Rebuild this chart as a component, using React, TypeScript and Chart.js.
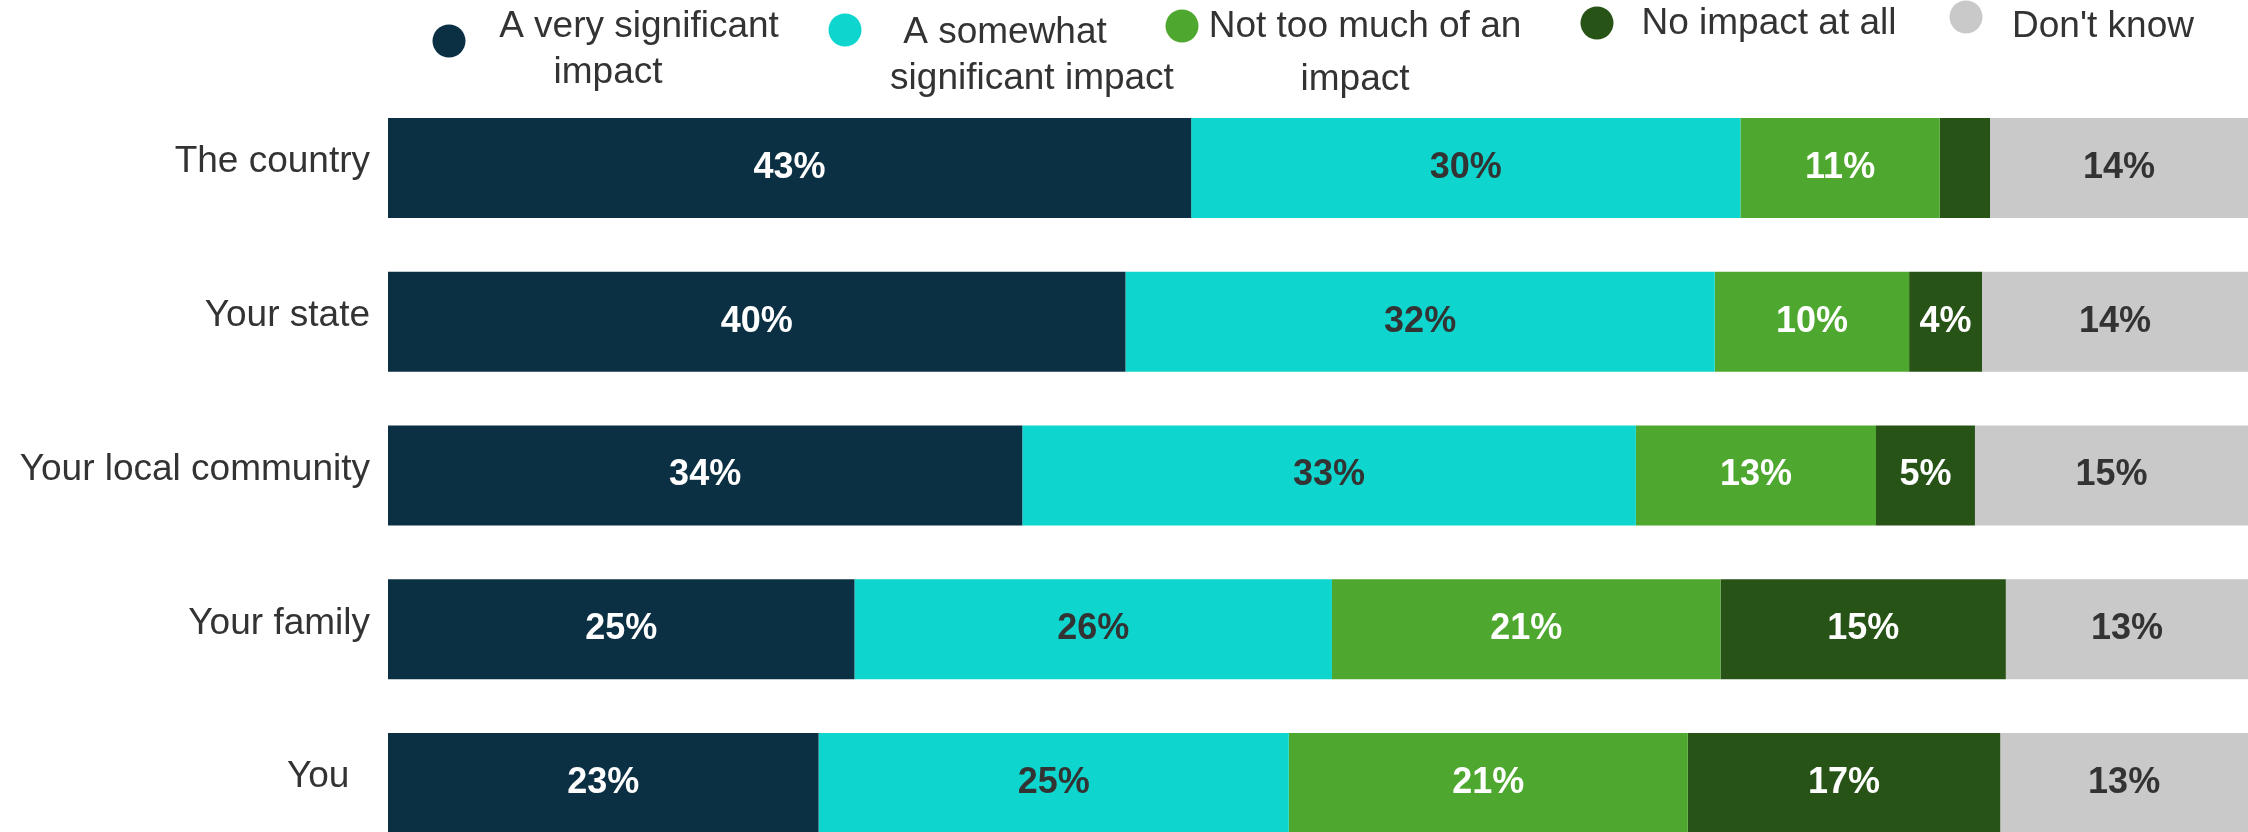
import React, { useEffect, useRef } from "react";
import { Chart, registerables } from "chart.js";

Chart.register(...registerables);

// ---- Data (labels are shown rounded) ----
const categories = ["The country", "Your state", "Your local community", "Your family", "You  "];
const seriesNames = [
  "A very significant impact",
  "A somewhat significant impact",
  "Not too much of an impact",
  "No impact at all",
  "Don't know",
];
const legendLines = [
  ["A very significant", "impact"],
  ["A somewhat", "significant impact"],
  ["Not too much of an", "impact"],
  ["No impact at all"],
  ["Don't know"],
];
const verySignificant = [43.18, 39.65, 34.1, 25.08, 23.15];
const somewhatSignificant = [29.53, 31.68, 32.99, 25.67, 25.28];
const notTooMuch = [10.72, 10.45, 12.91, 20.89, 21.45];
const noImpact = [2.7, 3.92, 5.32, 15.34, 16.8];
const dontKnow = [13.87, 14.3, 14.68, 13.02, 13.32];

const seriesValues = [verySignificant, somewhatSignificant, notTooMuch, noImpact, dontKnow];
const colors = ["#0c3043", "#0ed6ce", "#4ea72e", "#275317", "#c9c9c9"];
const labelColors = ["#ffffff", "#333333", "#ffffff", "#ffffff", "#333333"];

const FONT = '"Liberation Sans", Arial, Helvetica, sans-serif';
const TEXT = "#333333";

// legend layout (pixel style positions)
const legendDots = [
  { x: 449, y: 41 },
  { x: 845, y: 30 },
  { x: 1182, y: 26 },
  { x: 1597, y: 23 },
  { x: 1966, y: 17 },
];
const legendText = [
  [{ x: 639, y: 37 }, { x: 608, y: 83 }],
  [{ x: 1005, y: 43 }, { x: 1032, y: 89 }],
  [{ x: 1365, y: 37 }, { x: 1355, y: 90 }],
  [{ x: 1769, y: 34 }],
  [{ x: 2103, y: 37 }],
];

const legendPlugin = {
  id: "customLegend",
  afterDraw(chart: any) {
    const ctx = chart.ctx;
    ctx.save();
    seriesNames.forEach((_, i) => {
      const d = legendDots[i];
      ctx.beginPath();
      ctx.fillStyle = colors[i];
      ctx.arc(d.x, d.y, 16.5, 0, Math.PI * 2);
      ctx.fill();
      ctx.font = `37px ${FONT}`;
      ctx.fillStyle = TEXT;
      ctx.textAlign = "center";
      ctx.textBaseline = "alphabetic";
      legendLines[i].forEach((line, j) => {
        const p = legendText[i][j];
        ctx.fillText(line, p.x, p.y);
      });
    });
    ctx.restore();
  },
};

const segLabelPlugin = {
  id: "segLabels",
  afterDatasetsDraw(chart: any) {
    const ctx = chart.ctx;
    ctx.save();
    ctx.font = `bold 36px ${FONT}`;
    ctx.textAlign = "center";
    ctx.textBaseline = "middle";
    chart.data.datasets.forEach((ds: any, di: number) => {
      const meta = chart.getDatasetMeta(di);
      meta.data.forEach((bar: any, i: number) => {
        const v = ds.data[i] as number;
        if (v < 3) return;
        const { x, y, base } = bar.getProps(["x", "y", "base"], true);
        ctx.fillStyle = labelColors[di];
        ctx.fillText(Math.round(v) + "%", (x + base) / 2, y);
      });
    });
    ctx.restore();
  },
};

export default function App() {
  const ref = useRef<HTMLCanvasElement | null>(null);

  useEffect(() => {
    if (!ref.current) return;
    const chart = new Chart(ref.current, {
      type: "bar",
      data: {
        labels: categories,
        datasets: seriesNames.map((name, i) => ({
          label: name,
          data: seriesValues[i],
          backgroundColor: colors[i],
          borderWidth: 0,
          categoryPercentage: 1,
          barPercentage: 0.65,
        })),
      },
      options: {
        indexAxis: "y",
        responsive: false,
        animation: false,
        events: [],
        layout: { padding: { top: 91, left: 0, right: 0, bottom: 0 } },
        plugins: {
          legend: { display: false },
          tooltip: { enabled: false },
          title: { display: false },
        },
        scales: {
          x: { stacked: true, min: 0, max: 100, display: false },
          y: {
            stacked: true,
            grid: { display: false, drawTicks: false },
            border: { display: false },
            ticks: {
              font: { size: 37, family: FONT },
              color: TEXT,
              padding: 18,
              labelOffset: -6,
            },
            afterFit: (scale: any) => {
              scale.width = 388;
              scale.paddingTop = 0;
              scale.paddingBottom = 0;
            },
          },
        },
      } as any,
      plugins: [segLabelPlugin, legendPlugin],
    });
    return () => chart.destroy();
  }, []);

  return (
    <div
      style={{
        position: "fixed",
        top: 0,
        left: 0,
        width: 2248,
        height: 832,
        overflow: "hidden",
        background: "#ffffff",
      }}
    >
      <canvas ref={ref} width={2248} height={860} style={{ display: "block" }} />
    </div>
  );
}
